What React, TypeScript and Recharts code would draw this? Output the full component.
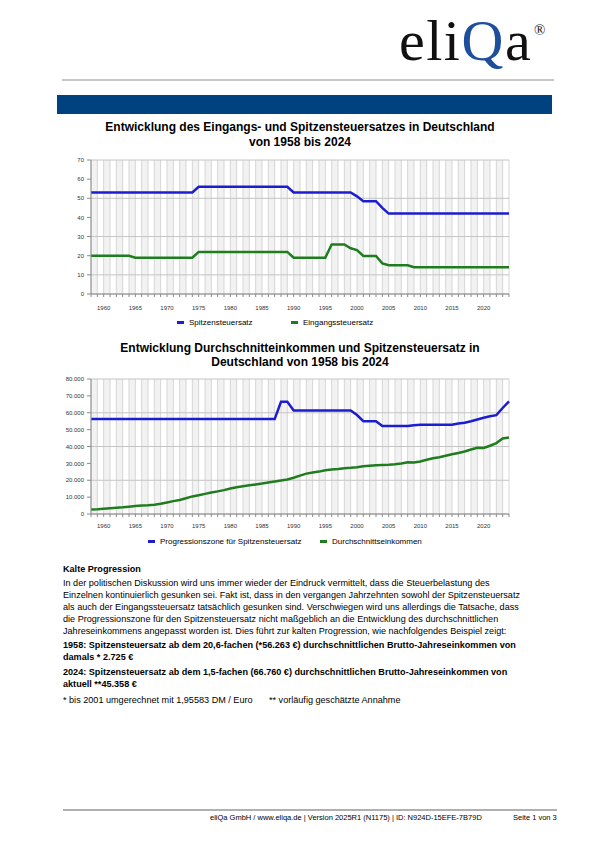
import React from "react";
import { CartesianGrid, Line, LineChart, XAxis, YAxis } from "recharts";

const years = [
  1958, 1959, 1960, 1961, 1962, 1963, 1964, 1965, 1966, 1967, 1968, 1969, 1970, 1971, 1972, 1973, 1974,
  1975, 1976, 1977, 1978, 1979, 1980, 1981, 1982, 1983, 1984, 1985, 1986, 1987, 1988, 1989, 1990, 1991,
  1992, 1993, 1994, 1995, 1996, 1997, 1998, 1999, 2000, 2001, 2002, 2003, 2004, 2005, 2006, 2007, 2008,
  2009, 2010, 2011, 2012, 2013, 2014, 2015, 2016, 2017, 2018, 2019, 2020, 2021, 2022, 2023, 2024,
];

// Steuersätze in %
const spitzensteuersatz = [
  53, 53, 53, 53, 53, 53, 53, 53, 53, 53, 53, 53, 53, 53, 53, 53, 53,
  56, 56, 56, 56, 56, 56, 56, 56, 56, 56, 56, 56, 56, 56, 56,
  53, 53, 53, 53, 53, 53, 53, 53, 53, 53,
  51, 48.5, 48.5, 48.5, 45,
  42, 42, 42, 42, 42, 42, 42, 42, 42, 42, 42, 42, 42, 42, 42, 42, 42, 42, 42, 42,
];

const eingangssteuersatz = [
  20, 20, 20, 20, 20, 20, 20,
  19, 19, 19, 19, 19, 19, 19, 19, 19, 19,
  22, 22, 22, 22, 22, 22, 22, 22, 22, 22, 22, 22, 22, 22, 22,
  19, 19, 19, 19, 19, 19,
  25.9, 25.9, 25.9, 23.9, 22.9, 19.9, 19.9, 19.9, 16,
  15, 15, 15, 15,
  14, 14, 14, 14, 14, 14, 14, 14, 14, 14, 14, 14, 14, 14, 14, 14,
];

// Euro
const progressionszone = [
  56263, 56263, 56263, 56263, 56263, 56263, 56263, 56263, 56263, 56263,
  56263, 56263, 56263, 56263, 56263, 56263, 56263, 56263, 56263, 56263,
  56263, 56263, 56263, 56263, 56263, 56263, 56263, 56263, 56263, 56263,
  66485, 66485,
  61377, 61377, 61377, 61377, 61377, 61377, 61377, 61377, 61377, 61377,
  58643, 55008, 55008, 55008,
  52152, 52152, 52152, 52152, 52152, 52552,
  52882, 52882, 52882, 52882, 52882, 52882,
  53666, 54058, 54950, 55961, 57052, 57919, 58597, 62810, 66760,
];

const durchschnittseinkommen = [
  2725, 2864, 3119, 3437, 3747, 3975, 4329, 4719, 5058, 5225, 5543, 6053, 6822, 7634, 8352, 9354, 10421,
  11150, 11931, 12754, 13417, 14155, 15076, 15799, 16463, 17023, 17533, 18042, 18727, 19289, 19887, 20484,
  21447, 22712, 23939, 24633, 25126, 25905, 26423, 26660, 27060, 27358, 27741, 28232, 28626, 28938, 29060,
  29202, 29494, 29951, 30625, 30506, 31144, 32100, 33002, 33659, 34514, 35363, 36187, 37077, 38212, 39301,
  39167, 40463, 42053, 44732, 45358,
];

const satzTicks = [0, 10, 20, 30, 40, 50, 60, 70];
const euroTicks = [0, 10000, 20000, 30000, 40000, 50000, 60000, 70000, 80000];

const satzData = years.map((year, i) => ({
  year,
  spitze: spitzensteuersatz[i],
  eingang: eingangssteuersatz[i],
}));

const euroData = years.map((year, i) => ({
  year,
  zone: progressionszone[i],
  schnitt: durchschnittseinkommen[i],
}));

const BLUE = "#1c1cd0";
const GREEN = "#1f7c1f";
const SANS = "'Liberation Sans', Arial, sans-serif";

const fmtEuro = (v: number) => (v === 0 ? "0" : `${v / 1000}.000`);

function YearTick(props: any) {
  const { x, y, payload } = props;
  if (payload.value % 5 !== 0) return <g />;
  return (
    <text x={x} y={y} dy="0.71em" textAnchor="middle" fontSize={6} fill="#333" fontFamily={SANS}>
      {payload.value}
    </text>
  );
}

function Grid() {
  return [
    <CartesianGrid
      key="v"
      horizontal={false}
      stroke="#d6d6d6"
      verticalFill={["#f2f2f2", "#ffffff"]}
    />,
    <CartesianGrid key="h" vertical={false} stroke="#c4c4c4" />,
  ];
}

function LegendItem({ color, label, left }: { color: string; label: string; left: number }) {
  return (
    <div style={{ position: "absolute", left, top: 0, display: "flex", alignItems: "center", height: 10 }}>
      <span style={{ width: 7, height: 3, background: color, marginRight: 5 }} />
      <span style={{ fontSize: 8, whiteSpace: "nowrap" }}>{label}</span>
    </div>
  );
}

function abs(left: number, top: number, extra: React.CSSProperties = {}): React.CSSProperties {
  return { position: "absolute", left, top, whiteSpace: "nowrap", ...extra };
}

export default function App() {
  const axisStroke = "#8a8a8a";
  return (
    <div
      style={{
        position: "absolute",
        left: 0,
        top: 0,
        width: 600,
        height: 850,
        background: "#fff",
        fontFamily: SANS,
        color: "#000",
        overflow: "hidden",
      }}
    >
      {/* Kopf */}
      <svg width={600} height={90} style={{ position: "absolute", left: 0, top: 0 }}>
        <text x={399} y={60} fontFamily="'Liberation Serif', serif" fontSize={58} letterSpacing={1.5} fill="#111">
          eli<tspan fill="#1d4f9d">Q</tspan>a
        </text>
        <text x={534} y={35} fontFamily="'Liberation Serif', serif" fontSize={15} fill="#111">
          ®
        </text>
        <line x1={62} x2={554} y1={80} y2={80} stroke="#b4b4b4" strokeWidth={1.5} />
      </svg>
      <div style={{ position: "absolute", left: 57, top: 95, width: 495, height: 19, background: "#00417f" }} />

      {/* Diagramm 1 */}
      <div style={abs(0, 119.5, { width: 600, textAlign: "center", fontSize: 12, fontWeight: "bold", lineHeight: "15px" })}>
        Entwicklung des Eingangs- und Spitzensteuersatzes in Deutschland
        <br />
        von 1958 bis 2024
      </div>
      <div style={abs(0, 150)}>
        <LineChart width={600} height={160} data={satzData} margin={{ top: 10, right: 91, left: 61, bottom: 0 }}>
          {Grid()}
          <XAxis
            dataKey="year"
            type="number"
            domain={[1958, 2024]}
            ticks={years}
            interval={0}
            height={16}
            tickSize={3}
            tickMargin={9}
            tick={<YearTick />}
            stroke={axisStroke}
          />
          <YAxis
            domain={[0, 70]}
            ticks={satzTicks}
            width={30}
            tickSize={4}
            tickMargin={3}
            stroke={axisStroke}
            tick={{ fontSize: 6, fill: "#333" }}
          />
          <Line type="linear" dataKey="spitze" stroke={BLUE} strokeWidth={2.5} dot={false} isAnimationActive={false} />
          <Line type="linear" dataKey="eingang" stroke={GREEN} strokeWidth={2.5} dot={false} isAnimationActive={false} />
        </LineChart>
      </div>
      <div style={abs(0, 317)}>
        <LegendItem color={BLUE} label="Spitzensteuersatz" left={177} />
        <LegendItem color={GREEN} label="Eingangssteuersatz" left={291} />
      </div>

      {/* Diagramm 2 */}
      <div style={abs(0, 340.5, { width: 600, textAlign: "center", fontSize: 12, fontWeight: "bold", lineHeight: "14px" })}>
        Entwicklung Durchschnitteinkommen und Spitzensteuersatz in
        <br />
        Deutschland von 1958 bis 2024
      </div>
      <div style={abs(0, 370)}>
        <LineChart width={600} height={160} data={euroData} margin={{ top: 9, right: 91, left: 61, bottom: 0 }}>
          {Grid()}
          <XAxis
            dataKey="year"
            type="number"
            domain={[1958, 2024]}
            ticks={years}
            interval={0}
            height={16}
            tickSize={3}
            tickMargin={7}
            tick={<YearTick />}
            stroke={axisStroke}
          />
          <YAxis
            domain={[0, 80000]}
            ticks={euroTicks}
            width={30}
            tickSize={4}
            tickMargin={3}
            stroke={axisStroke}
            tickFormatter={fmtEuro}
            tick={{ fontSize: 6, fill: "#333" }}
          />
          <Line type="linear" dataKey="zone" stroke={BLUE} strokeWidth={2.5} dot={false} isAnimationActive={false} />
          <Line type="linear" dataKey="schnitt" stroke={GREEN} strokeWidth={2.5} dot={false} isAnimationActive={false} />
        </LineChart>
      </div>
      <div style={abs(0, 536.5)}>
        <LegendItem color={BLUE} label="Progressionszone für Spitzensteuersatz" left={148} />
        <LegendItem color={GREEN} label="Durchschnittseinkommen" left={320} />
      </div>

      {/* Text */}
      <div style={abs(63, 563, { fontSize: 9.1, fontWeight: "bold", lineHeight: "12px" })}>Kalte Progression</div>
      <div style={abs(63, 576.5, { fontSize: 9.1, lineHeight: "12px" })}>
        In der politischen Diskussion wird uns immer wieder der Eindruck vermittelt, dass die Steuerbelastung des
        <br />
        Einzelnen kontinuierlich gesunken sei. Fakt ist, dass in den vergangen Jahrzehnten sowohl der Spitzensteuersatz
        <br />
        als auch der Eingangssteuersatz tatsächlich gesunken sind. Verschwiegen wird uns allerdings die Tatsache, dass
        <br />
        die Progressionszone für den Spitzensteuersatz nicht maßgeblich an die Entwicklung des durchschnittlichen
        <br />
        Jahreseinkommens angepasst worden ist. Dies führt zur kalten Progression, wie nachfolgendes Beispiel zeigt:
      </div>
      <div style={abs(63, 639, { fontSize: 9.1, fontWeight: "bold", lineHeight: "12px" })}>
        1958: Spitzensteuersatz ab dem 20,6-fachen (*56.263 €) durchschnittlichen Brutto-Jahreseinkommen von
        <br />
        damals * 2.725 €
      </div>
      <div style={abs(63, 666, { fontSize: 9.1, fontWeight: "bold", lineHeight: "12px" })}>
        2024: Spitzensteuersatz ab dem 1,5-fachen (66.760 €) durchschnittlichen Brutto-Jahreseinkommen von
        <br />
        aktuell **45.358 €
      </div>
      <div style={abs(63, 694, { fontSize: 9.1, lineHeight: "12px" })}>* bis 2001 umgerechnet mit 1,95583 DM / Euro</div>
      <div style={abs(269, 694, { fontSize: 9.1, lineHeight: "12px" })}>** vorläufig geschätzte Annahme</div>

      {/* Fuß */}
      <div style={{ position: "absolute", left: 63, top: 809, width: 494, height: 1.5, background: "#b0b0b0" }} />
      <div style={abs(210, 813, { fontSize: 7.5, lineHeight: "10px" })}>
        eliQa GmbH / www.eliqa.de | Version 2025R1 (N1175) | ID: N924D-15EFE-7B79D
      </div>
      <div style={abs(513, 813, { fontSize: 7.5, lineHeight: "10px" })}>Seite 1 von 3</div>
    </div>
  );
}
